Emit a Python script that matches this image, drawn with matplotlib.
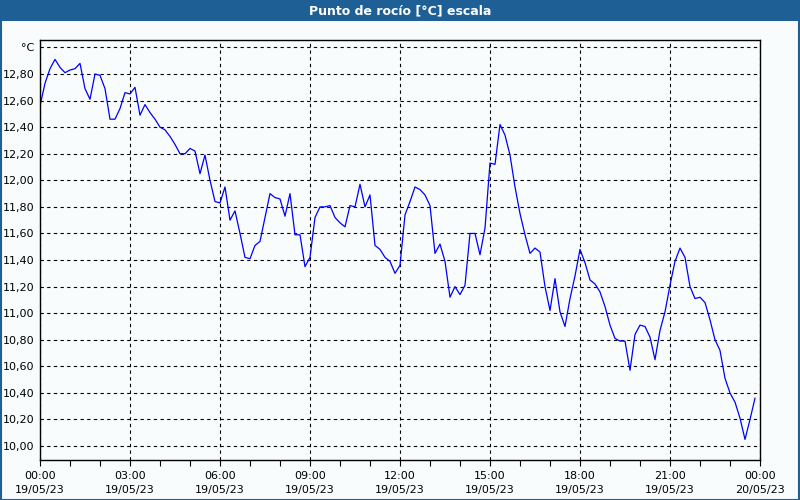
import numpy as np
import pandas as pd
import matplotlib
matplotlib.use("Agg")
import matplotlib.pyplot as plt
import matplotlib.dates as mdates
from matplotlib.patches import Rectangle
from matplotlib.ticker import FixedLocator, FuncFormatter

# dew point, one reading every 10 minutes on 19/05/23
dew_point = [
    12.56, 12.73, 12.84, 12.91, 12.85, 12.81, 12.83, 12.84, 12.88, 12.69,
    12.61, 12.80, 12.79, 12.69, 12.46, 12.46, 12.54, 12.66, 12.65, 12.70,
    12.49, 12.57, 12.51, 12.46, 12.40, 12.38, 12.33, 12.27, 12.20, 12.20,
    12.24, 12.22, 12.05, 12.19, 12.00, 11.84, 11.83, 11.95, 11.70, 11.77,
    11.60, 11.42, 11.41, 11.51, 11.54, 11.72, 11.90, 11.87, 11.86, 11.73,
    11.90, 11.59, 11.59, 11.35, 11.42, 11.72, 11.80, 11.80, 11.81, 11.72,
    11.68, 11.65, 11.81, 11.80, 11.97, 11.80, 11.89, 11.51, 11.48, 11.42,
    11.39, 11.30, 11.36, 11.74, 11.84, 11.95, 11.93, 11.89, 11.81, 11.45,
    11.52, 11.39, 11.12, 11.20, 11.14, 11.21, 11.60, 11.60, 11.44, 11.64,
    12.13, 12.12, 12.42, 12.34, 12.19, 11.95, 11.75, 11.59, 11.45, 11.49,
    11.46, 11.20, 11.02, 11.26, 11.01, 10.90, 11.11, 11.28, 11.48, 11.38,
    11.25, 11.22, 11.16, 11.05, 10.91, 10.81, 10.79, 10.79, 10.57, 10.84,
    10.91, 10.90, 10.82, 10.65, 10.87, 11.01, 11.21, 11.39, 11.49, 11.42,
    11.20, 11.11, 11.12, 11.08, 10.95, 10.80, 10.72, 10.51, 10.40, 10.33,
    10.21, 10.05, 10.20, 10.36,
]
times = pd.date_range("2023-05-19 00:00", periods=len(dew_point), freq="10min")
t_start = pd.Timestamp("2023-05-19 00:00")
t_end = pd.Timestamp("2023-05-20 00:00")

y_ticks = [10.0 + 0.2 * i for i in range(16)]
title = "Punto de rocío [°C] escala"

bg = "#f9fcfc"
bar_blue = "#1e5f96"

fig = plt.figure(figsize=(8, 5), dpi=100, facecolor=bg)

# title bar and frame
fig.patches.append(Rectangle((0, 0.958), 1, 0.042, transform=fig.transFigure,
                             facecolor=bar_blue, edgecolor="none", zorder=0))
fig.patches.append(Rectangle((0.001, 0.001), 0.998, 0.998, transform=fig.transFigure,
                             facecolor="none", edgecolor=bar_blue, lw=1.5, zorder=5))
fig.text(0.5, 0.979, title, color="white", fontsize=9, fontweight="bold",
         ha="center", va="center")

ax = fig.add_axes([0.05, 0.08, 0.90, 0.84])
ax.set_facecolor(bg)
ax.plot(times, dew_point, color="#0000ff", lw=0.9)

ax.set_xlim(t_start, t_end)
ax.set_ylim(9.895, 13.056)

ax.xaxis.set_major_locator(mdates.HourLocator(byhour=range(0, 24, 3)))
ax.xaxis.set_minor_locator(mdates.HourLocator())
ax.xaxis.set_major_formatter(mdates.DateFormatter("%H:%M\n%d/%m/%y"))

ax.yaxis.set_major_locator(FixedLocator(y_ticks))
def fmt_y(v, pos):
    if abs(v - 13.0) < 1e-6:
        return "°C"
    return f"{v:.2f}".replace(".", ",")
ax.yaxis.set_major_formatter(FuncFormatter(fmt_y))

ax.tick_params(axis="x", which="both", direction="out", length=4, width=0.8,
               labelsize=8, pad=4, colors="black")
ax.tick_params(axis="y", which="both", length=0, labelsize=8, pad=4)

ax.grid(True, which="major", color="black", lw=0.8, linestyle=(0, (3, 3)))
for s in ax.spines.values():
    s.set_color("black")
    s.set_linewidth(1)

fig.canvas.draw()
for lbl in ax.xaxis.get_majorticklabels():
    lbl.set_linespacing(1.45)

fig.savefig("out.png", dpi=100, facecolor=bg)
